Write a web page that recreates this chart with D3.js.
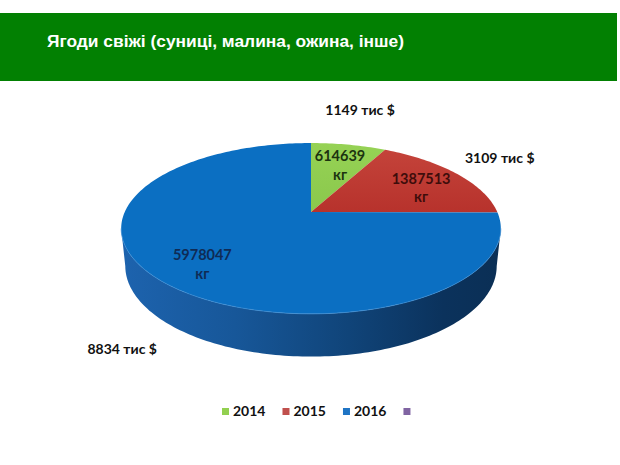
<!DOCTYPE html>
<html>
<head>
<meta charset="utf-8">
<script src="https://cdn.jsdelivr.net/npm/d3@7"></script>
<style>
  body { margin: 0; background: #fff; }
  svg { display: block; }
</style>
</head>
<body>
<svg id="chart" width="620" height="465"></svg>
<script>
var title = 'Ягоди свіжі (суниці, малина, ожина, інше)';
var years = ['2014', '2015', '2016'];
var kg = [614639, 1387513, 5978047];
var usd = [1149, 3109, 8834];
var legendItems = ['2014', '2015', '2016', ''];

var topColors = ['#90cf50', '#be3a32', '#0b6fc2'];
var textColors = ['#1c3410', '#3e0d0b', '#0f2b55'];
var legendColors = ['#92d050', '#c0504d', '#1f74c4', '#8064a2'];

var svg = d3.select('#chart');
var defs = svg.append('defs');

// title band
svg.append('rect')
    .attr('x', 0).attr('y', 13).attr('width', 617).attr('height', 68)
    .style('fill', '#028002');
var t = svg.append('text')
    .attr('x', 47).attr('y', 47)
    .style('fill', 'white')
    .style('font-family', 'Liberation Sans, Arial, sans-serif')
    .style('font-weight', 'bold').style('font-size', '17px')
    .text(title);
var tw = t.node().getComputedTextLength();
t.style('font-size', (17 * 357 / tw) + 'px');

// 3d pie projection (perspective, seen from above)
const cx = 311, cy = 212;
const tilt = 26.2 * Math.PI / 180, ca = Math.cos(tilt), sa = Math.sin(tilt);
const dist = 4.66, focal = 868, depth = 0.225;

function proj(theta, r, y) {
    var X = r * Math.sin(theta), Z = r * Math.cos(theta);
    var up = y * ca + Z * sa;
    var fwd = Z * ca - y * sa + dist;
    return [cx + focal * X / fwd, cy - focal * up / fwd];
}

function arcPts(a0, a1, r, y) {
    var n = Math.max(2, Math.ceil(Math.abs(a1 - a0) / 0.02));
    return d3.range(n + 1).map(function(i) { return proj(a0 + (a1 - a0) * i / n, r, y); });
}

var pie = d3.pie().sort(null).startAngle(0).endAngle(2 * Math.PI);
var arcs = pie(kg);

// silhouette angles of the rim
var samples = d3.range(0, 2 * Math.PI, 0.002);
var thR = d3.greatest(samples.filter(function(a) { return a < Math.PI; }), function(a) { return proj(a, 1, 0)[0]; });
var thL = d3.least(samples.filter(function(a) { return a > Math.PI; }), function(a) { return proj(a, 1, 0)[0]; });

var left = proj(thL, 1, 0)[0], right = proj(thR, 1, 0)[0];
var sideGrad = defs.append('linearGradient').attr('id', 'side')
    .attr('gradientUnits', 'userSpaceOnUse')
    .attr('x1', left).attr('x2', right).attr('y1', 0).attr('y2', 0);
[[0, '#1d63ae'], [0.3, '#175799'], [0.6, '#104479'], [0.85, '#0b325c'], [1, '#0b2f55']].forEach(function(s) {
    sideGrad.append('stop').attr('offset', s[0]).attr('stop-color', s[1]);
});

var line = d3.line();

// side walls
arcs.forEach(function(d, i) {
    var a = Math.max(d.startAngle, thR), b = Math.min(d.endAngle, thL);
    if (a >= b) return;
    var pts = arcPts(a, b, 1, 0).concat(arcPts(b, a, 1, -depth));
    svg.append('path').attr('d', line(pts) + 'Z')
        .style('fill', i === 2 ? 'url(#side)' : d3.color(topColors[i]).darker(1));
});

// top faces
var redGrad = defs.append('linearGradient').attr('id', 'g1')
    .attr('x1', 0).attr('y1', 0).attr('x2', 0).attr('y2', 1);
redGrad.append('stop').attr('offset', 0).attr('stop-color', '#c4433a');
redGrad.append('stop').attr('offset', 1).attr('stop-color', '#b7322c');
var greenGrad = defs.append('linearGradient').attr('id', 'g0')
    .attr('x1', 0).attr('y1', 0).attr('x2', 0).attr('y2', 1);
greenGrad.append('stop').attr('offset', 0).attr('stop-color', '#96d255');
greenGrad.append('stop').attr('offset', 1).attr('stop-color', '#8ac84c');

arcs.forEach(function(d, i) {
    var pts = [proj(0, 0, 0)].concat(arcPts(d.startAngle, d.endAngle, 1, 0));
    svg.append('path').attr('d', line(pts) + 'Z')
        .style('fill', i === 0 ? 'url(#g0)' : i === 1 ? 'url(#g1)' : topColors[i]);
});

// light rim on the front edge
svg.append('path')
    .attr('d', line(arcPts(thR, thL, 1, 0)))
    .style('fill', 'none').style('stroke', '#3d8fd6').style('stroke-width', 1).style('opacity', 0.7);

// inner labels (kg)
var fmt = d3.format('d');
arcs.forEach(function(d, i) {
    var mid = (d.startAngle + d.endAngle) / 2;
    var p = proj(mid, 0.74, 0);
    var g = svg.append('text')
        .attr('x', p[0]).attr('y', p[1])
        .style('text-anchor', 'middle')
        .style('font-family', 'Lato, sans-serif').style('font-weight', 'bold').style('font-size', '14.5px')
        .style('fill', textColors[i]);
    g.append('tspan').attr('x', p[0]).attr('dy', '0.05em').text(fmt(kg[i]));
    g.append('tspan').attr('x', p[0]).attr('dy', '1.3em').text('кг');
});

// outer labels (thousand $)
arcs.forEach(function(d, i) {
    var mid = (d.startAngle + d.endAngle) / 2;
    var front = Math.cos(mid) < 0;
    var p = front ? proj(mid, 1.2, -depth) : proj(mid, 1.3, 0);
    var dx = p[0] - cx, dy = p[1] - cy, len = Math.sqrt(dx * dx + dy * dy);
    var x = p[0] + dx / len * 5, y = p[1] + dy / len * 21;
    svg.append('text')
        .attr('x', x).attr('y', y + 5)
        .style('text-anchor', 'middle')
        .style('font-family', 'Lato, sans-serif').style('font-weight', 'bold').style('font-size', '14px')
        .style('fill', '#111')
        .text(usd[i] + ' тис $');
});

// legend
var lg = svg.append('g');
var lx = 0;
legendItems.forEach(function(name, i) {
    lg.append('rect').attr('x', lx).attr('y', -8).attr('width', 7).attr('height', 7)
        .style('fill', legendColors[i]);
    var tx = lg.append('text').attr('x', lx + 11).attr('y', 0)
        .style('font-family', 'Lato, sans-serif').style('font-weight', 'bold').style('font-size', '14px')
        .style('fill', '#111').text(name);
    lx += 11 + tx.node().getComputedTextLength() + 17;
});
lg.attr('transform', 'translate(222,416)');
</script>
</body>
</html>
